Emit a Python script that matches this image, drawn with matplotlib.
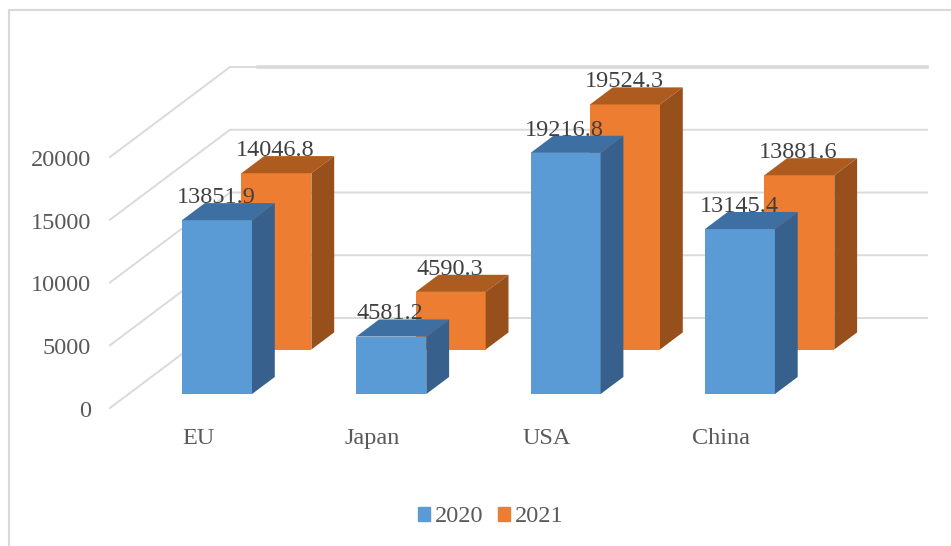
import matplotlib
matplotlib.use("Agg")
import matplotlib.pyplot as plt
from matplotlib.patches import Patch, Polygon

plt.rcParams['font.family'] = ['Liberation Serif', 'DejaVu Serif']

categories = ["EU", "Japan", "USA", "China"]
values_2020 = [13851.9, 4581.2, 19216.8, 13145.4]
values_2021 = [14046.8, 4590.3, 19524.3, 13881.6]
y_ticks = [0, 5000, 10000, 15000, 20000]
series_names = ["2020", "2021"]

blue = ("#5B9BD5", "#3D6FA3", "#37618C")
orange = ("#ED7D31", "#AD5B1F", "#97501B")

# size of the picture, one category = 174.3 px, 20000 = 251 px
W, H = 951, 546
px_x = 174.3
px_y = 251 / 20000
x0 = 163.4
y0 = 408


# oblique look: going back by d moves right and up
def depth(x, v, d):
    return x + d * 120 / px_x, v + d * 90 / px_y


fig = plt.figure(figsize=(W / 100, H / 100), dpi=100)
ax = fig.add_axes([0, 0, 1, 1])
ax.set_xlim(-x0 / px_x, (W - x0) / px_x)
ax.set_ylim((y0 - H) / px_y, y0 / px_y)
ax.axis("off")

# outer frame, only left and top show
ax.plot([9 / W, 9 / W, 1], [0, 1 - 10 / H, 1 - 10 / H], transform=ax.transAxes,
        color="#D9D9D9", lw=1.5, zorder=1)

# walls: diagonal on the side, then flat along the back
left = (110 - x0) / px_x
right = (927 - x0) / px_x
for t in y_ticks:
    bx, bv = depth(left, t, 1)
    ax.plot([left, bx, right], [t, bv, bv], color="#DADADA", lw=1.4, zorder=1)
    ax.text((91 - x0) / px_x, t - 60, str(t), ha="right", va="center_baseline",
            fontsize=17.5, color="#595959")
# top one is heavier in the original
bx, bv = depth(left, 20000, 1)
ax.plot([(258 - x0) / px_x, right], [bv, bv], color="#D9D9D9", lw=2.6, zorder=1)


def bar(x, v, d, cols):
    w = 70 / px_x
    dd = 0.19
    xl, b = depth(x, 0, d)
    xr = xl + w
    t = b + v
    bxr, bb = depth(xr, b, dd)
    bxr, bt = depth(xr, t, dd)
    bxl, _ = depth(xl, t, dd)
    ax.add_patch(Polygon([(xl, b), (xr, b), (xr, t), (xl, t)], fc=cols[0], ec="none", zorder=3))
    ax.add_patch(Polygon([(xl, t), (xr, t), (bxr, bt), (bxl, bt)], fc=cols[1], ec="none", zorder=3))
    ax.add_patch(Polygon([(xr, b), (bxr, bb), (bxr, bt), (xr, t)], fc=cols[2], ec="none", zorder=3))
    return (xl + xr) / 2 - 1 / px_x, bt


# 2021 sits behind 2020
labels = []
for vals, d, cols in [(values_2021, 0.65, orange), (values_2020, 0.155, blue)]:
    for i, v in enumerate(vals):
        lx, ly = bar(i, v, d, cols)
        labels.append((lx, ly, v))

for lx, ly, v in labels:
    ax.text(lx, ly, f"{v:.1f}", ha="center", va="baseline", fontsize=17.5,
            color="#404040", zorder=5)

for i, c in enumerate(categories):
    ax.text(i + 34.6 / px_x, (y0 - 444) / px_y, c, ha="center", va="baseline",
            fontsize=17.5, color="#595959")

handles = [Patch(color=blue[0]), Patch(color=orange[0])]
ax.legend(handles, series_names, loc="center", bbox_to_anchor=(490.5 / W, 1 - 517 / H),
          ncol=2, frameon=False, fontsize=17.5, labelcolor="#595959",
          handlelength=0.5, handleheight=0.5, handletextpad=0.2, columnspacing=0.6)

fig.savefig("out.png", dpi=100)
